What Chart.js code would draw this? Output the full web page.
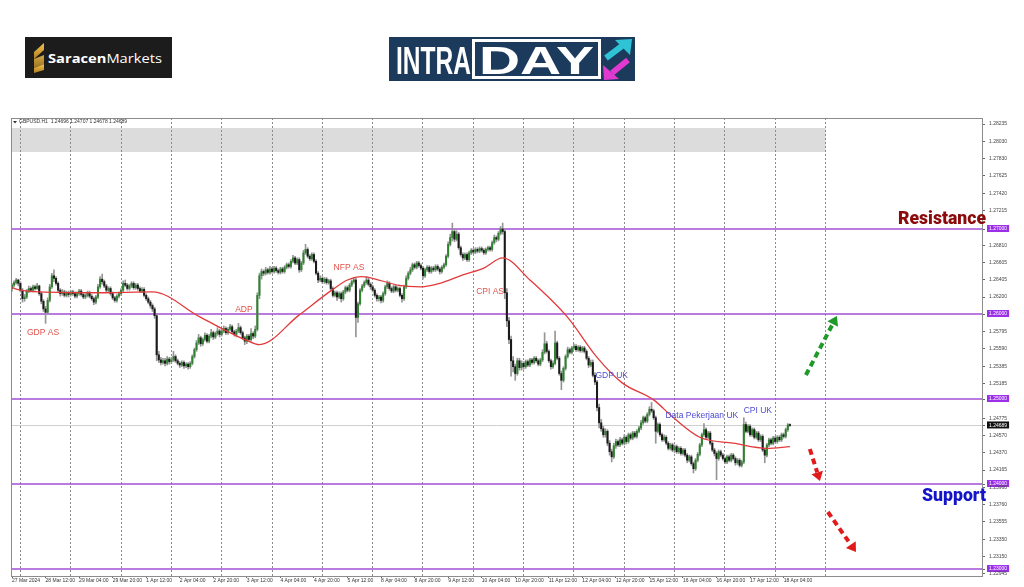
<!DOCTYPE html>
<html>
<head>
<meta charset="utf-8">
<script src="https://cdn.jsdelivr.net/npm/chart.js@4.4.0/dist/chart.umd.min.js"></script>
<style>
  html, body { margin: 0; padding: 0; background: #fff; width: 1024px; height: 587px; overflow: hidden; }
  #wrap { position: absolute; left: 0; top: 0; width: 1024px; height: 587px; }
  svg.abs { position: absolute; left: 0; top: 0; pointer-events: none; }
</style>
</head>
<body>
<div id="wrap"><canvas id="c"></canvas></div>

<!-- logos + big labels -->
<svg class="abs" width="1024" height="587">
  <defs>
    <linearGradient id="gold" x1="0" y1="0" x2="0" y2="1">
      <stop offset="0" stop-color="#f3c54a"/><stop offset="1" stop-color="#b07d22"/>
    </linearGradient>
  </defs>
  <g transform="translate(25,37)">
    <rect width="147" height="41" fill="#1c1c1c"/>
    <polygon points="19,6 9,15 9,22 19,13" fill="url(#gold)"/>
    <polygon points="9,22 19,18 19,27 9,31" fill="url(#gold)" opacity="0.85"/>
    <polygon points="19,27 19,33 9,36 9,31" fill="url(#gold)"/>
    <text x="23" y="26" font-family="Open Sans, Liberation Sans" font-size="13" fill="#fff"
          textLength="114" lengthAdjust="spacingAndGlyphs"><tspan font-weight="700">Saracen</tspan>Markets</text>
  </g>
  <g transform="translate(389,37)">
    <rect width="246" height="44" fill="#1b3a5c"/>
    <text x="7" y="37" font-family="Liberation Sans, Roboto" font-weight="700"
          font-size="38" fill="#fff" textLength="75" lengthAdjust="spacingAndGlyphs">INTRA</text>
    <rect x="84.5" y="3.5" width="126" height="37" fill="none" stroke="#fff" stroke-width="3"/>
    <text x="90" y="37" font-family="Liberation Sans, Roboto" font-weight="700"
          font-size="38" fill="#fff" textLength="115" lengthAdjust="spacingAndGlyphs">DAY</text>
    <line x1="217" y1="21" x2="233" y2="9" stroke="#2ec4d6" stroke-width="6"/>
    <polygon points="226,3 243,2 241,18" fill="#2ec4d6"/>
    <line x1="239" y1="23" x2="223" y2="36" stroke="#e03ad0" stroke-width="6"/>
    <polygon points="214,28 215,43 230,42" fill="#e03ad0"/>
  </g>
  <text x="898" y="224" font-family="Roboto, Liberation Sans" font-weight="900" font-size="18" fill="#8b0b0b"
        textLength="88" lengthAdjust="spacingAndGlyphs">Resistance</text>
  <text x="922" y="501" font-family="Roboto, Liberation Sans" font-weight="900" font-size="18" fill="#1414c8"
        textLength="64" lengthAdjust="spacingAndGlyphs">Support</text>
</svg>

<script>
// GBPUSD H1, 27 Mar 20:00 .. 18 Apr 07:00 (one bar per hour, 24/5)
const OPEN = [
  1.2630, 1.2634, 1.2637, 1.2640,
  1.2636, 1.2628, 1.2618, 1.2620, 1.2627, 1.2630, 1.2628, 1.2632, 1.2630, 1.2633, 1.2624, 1.2615, 1.2606, 1.2602, 1.2616, 1.2632, 1.2645, 1.2642, 1.2636, 1.2628, 1.2624, 1.2626, 1.2622, 1.2625,
  1.2623, 1.2626, 1.2624, 1.2621, 1.2624, 1.2627, 1.2623, 1.2620, 1.2622, 1.2625, 1.2621, 1.2618, 1.2614, 1.2620, 1.2632, 1.2641, 1.2638, 1.2633, 1.2628, 1.2630, 1.2624, 1.2619, 1.2616, 1.2621,
  1.2624, 1.2628, 1.2636, 1.2634, 1.2630, 1.2633, 1.2636, 1.2631, 1.2634, 1.2630, 1.2627, 1.2629, 1.2622, 1.2618, 1.2614, 1.2610, 1.2606, 1.2598, 1.2552, 1.2546, 1.2543, 1.2545, 1.2542, 1.2547,
  1.2544, 1.2546, 1.2550, 1.2545, 1.2542, 1.2540, 1.2543, 1.2539, 1.2541, 1.2538, 1.2542, 1.2550, 1.2558, 1.2566, 1.2572, 1.2565, 1.2570, 1.2575, 1.2568, 1.2574, 1.2578, 1.2573, 1.2577, 1.2580,
  1.2576, 1.2580, 1.2583, 1.2578, 1.2582, 1.2585, 1.2579, 1.2576, 1.2580, 1.2584, 1.2578, 1.2572, 1.2568, 1.2574, 1.2570, 1.2577, 1.2574, 1.2582, 1.2622, 1.2645, 1.2650, 1.2648, 1.2652, 1.2649,
  1.2653, 1.2650, 1.2654, 1.2651, 1.2649, 1.2653, 1.2650, 1.2655, 1.2658, 1.2656, 1.2662, 1.2666, 1.2660, 1.2664, 1.2652, 1.2660, 1.2672, 1.2676, 1.2668, 1.2665, 1.2670, 1.2662, 1.2648, 1.2640,
  1.2642, 1.2638, 1.2641, 1.2637, 1.2639, 1.2630, 1.2622, 1.2625, 1.2620, 1.2624, 1.2618, 1.2626, 1.2631, 1.2628, 1.2634, 1.2638, 1.2640, 1.2596, 1.2612, 1.2628, 1.2633, 1.2637, 1.2640, 1.2635,
  1.2632, 1.2628, 1.2622, 1.2618, 1.2620, 1.2616, 1.2624, 1.2632, 1.2636, 1.2630, 1.2627, 1.2632, 1.2628, 1.2630, 1.2622, 1.2618, 1.2632, 1.2642, 1.2648, 1.2652, 1.2658, 1.2655, 1.2660, 1.2657,
  1.2654, 1.2645, 1.2652, 1.2655, 1.2650, 1.2654, 1.2652, 1.2656, 1.2653, 1.2650, 1.2655, 1.2658, 1.2668, 1.2682, 1.2690, 1.2697, 1.2688, 1.2694, 1.2678, 1.2670, 1.2666, 1.2670, 1.2664, 1.2672,
  1.2675, 1.2673, 1.2676, 1.2674, 1.2677, 1.2675, 1.2672, 1.2676, 1.2678, 1.2676, 1.2684, 1.2690, 1.2688, 1.2695, 1.2700, 1.2697, 1.2625, 1.2592, 1.2570, 1.2545, 1.2538, 1.2530, 1.2545, 1.2537,
  1.2542, 1.2538, 1.2544, 1.2540, 1.2546, 1.2543, 1.2548, 1.2545, 1.2541, 1.2546, 1.2555, 1.2565, 1.2556, 1.2545, 1.2538, 1.2542, 1.2566, 1.2548, 1.2530, 1.2522, 1.2536, 1.2550, 1.2558, 1.2555,
  1.2560, 1.2562, 1.2558, 1.2561, 1.2557, 1.2560, 1.2556, 1.2548, 1.2540, 1.2543, 1.2528, 1.2520, 1.2490, 1.2472, 1.2465, 1.2458, 1.2462, 1.2448, 1.2438, 1.2432, 1.2445, 1.2450, 1.2446, 1.2452,
  1.2448, 1.2455, 1.2450, 1.2458, 1.2454, 1.2460, 1.2456, 1.2462, 1.2466, 1.2472, 1.2478, 1.2474, 1.2482, 1.2488, 1.2486, 1.2478, 1.2462, 1.2470, 1.2458, 1.2452, 1.2455, 1.2448, 1.2442, 1.2446,
  1.2440, 1.2444, 1.2438, 1.2442, 1.2436, 1.2440, 1.2434, 1.2428, 1.2432, 1.2424, 1.2418, 1.2428, 1.2435, 1.2446, 1.2458, 1.2464, 1.2455, 1.2460, 1.2448, 1.2440, 1.2436, 1.2430, 1.2438, 1.2434,
  1.2430, 1.2426, 1.2432, 1.2428, 1.2434, 1.2430, 1.2425, 1.2428, 1.2422, 1.2426, 1.2470, 1.2462, 1.2468, 1.2458, 1.2464, 1.2455, 1.2460, 1.2452, 1.2456, 1.2440, 1.2434, 1.2446, 1.2452, 1.2448,
  1.2454, 1.2450, 1.2455, 1.2452, 1.2458, 1.2456, 1.2464, 1.24696
];
const HIGH = [
  1.2636, 1.2639, 1.2642, 1.2641,
  1.2638, 1.2630, 1.2623, 1.2629, 1.2633, 1.2632, 1.2634, 1.2634, 1.2636, 1.2634, 1.2626, 1.2617, 1.2609, 1.2619, 1.2635, 1.2648, 1.2652, 1.2644, 1.2638, 1.2630, 1.2629, 1.2628, 1.2627, 1.2627,
  1.2628, 1.2628, 1.2626, 1.2626, 1.2629, 1.2629, 1.2625, 1.2624, 1.2627, 1.2627, 1.2623, 1.2620, 1.2622, 1.2635, 1.2644, 1.2647, 1.2640, 1.2635, 1.2632, 1.2632, 1.2626, 1.2621, 1.2623, 1.2626,
  1.2630, 1.2639, 1.2640, 1.2636, 1.2635, 1.2638, 1.2638, 1.2636, 1.2636, 1.2632, 1.2631, 1.2631, 1.2624, 1.2620, 1.2616, 1.2612, 1.2608, 1.2600, 1.2556, 1.2549, 1.2548, 1.2548, 1.2550, 1.2549,
  1.2549, 1.2556, 1.2552, 1.2547, 1.2544, 1.2545, 1.2545, 1.2543, 1.2543, 1.2544, 1.2552, 1.2560, 1.2569, 1.2576, 1.2574, 1.2572, 1.2578, 1.2577, 1.2576, 1.2582, 1.2580, 1.2579, 1.2584, 1.2582,
  1.2582, 1.2586, 1.2585, 1.2584, 1.2588, 1.2587, 1.2581, 1.2582, 1.2589, 1.2586, 1.2580, 1.2574, 1.2576, 1.2576, 1.2583, 1.2579, 1.2586, 1.2625, 1.2648, 1.2653, 1.2652, 1.2655, 1.2654, 1.2656,
  1.2655, 1.2656, 1.2656, 1.2653, 1.2655, 1.2655, 1.2657, 1.2660, 1.2660, 1.2664, 1.2669, 1.2668, 1.2666, 1.2666, 1.2662, 1.2675, 1.2682, 1.2678, 1.2670, 1.2672, 1.2672, 1.2664, 1.2650, 1.2645,
  1.2644, 1.2643, 1.2643, 1.2641, 1.2641, 1.2632, 1.2627, 1.2627, 1.2626, 1.2626, 1.2628, 1.2633, 1.2633, 1.2636, 1.2640, 1.2643, 1.2642, 1.2614, 1.2630, 1.2635, 1.2639, 1.2644, 1.2642, 1.2637,
  1.2634, 1.2630, 1.2624, 1.2622, 1.2622, 1.2626, 1.2634, 1.2639, 1.2638, 1.2632, 1.2634, 1.2634, 1.2632, 1.2632, 1.2624, 1.2634, 1.2645, 1.2650, 1.2655, 1.2660, 1.2660, 1.2662, 1.2662, 1.2659,
  1.2656, 1.2654, 1.2657, 1.2657, 1.2656, 1.2656, 1.2658, 1.2658, 1.2655, 1.2657, 1.2660, 1.2670, 1.2685, 1.2694, 1.2707, 1.2700, 1.2698, 1.2696, 1.2680, 1.2672, 1.2672, 1.2672, 1.2674, 1.2677,
  1.2677, 1.2678, 1.2678, 1.2679, 1.2679, 1.2677, 1.2678, 1.2680, 1.2680, 1.2686, 1.2693, 1.2692, 1.2697, 1.2703, 1.2707, 1.2699, 1.2630, 1.2596, 1.2574, 1.2550, 1.2541, 1.2548, 1.2548, 1.2545,
  1.2544, 1.2546, 1.2546, 1.2548, 1.2548, 1.2550, 1.2550, 1.2547, 1.2548, 1.2558, 1.2578, 1.2568, 1.2558, 1.2547, 1.2545, 1.2580, 1.2568, 1.2550, 1.2533, 1.2538, 1.2552, 1.2561, 1.2560, 1.2562,
  1.2565, 1.2564, 1.2563, 1.2563, 1.2562, 1.2562, 1.2558, 1.2550, 1.2546, 1.2546, 1.2531, 1.2522, 1.2494, 1.2476, 1.2468, 1.2465, 1.2464, 1.2451, 1.2441, 1.2448, 1.2453, 1.2452, 1.2455, 1.2454,
  1.2458, 1.2457, 1.2460, 1.2460, 1.2462, 1.2462, 1.2464, 1.2468, 1.2475, 1.2480, 1.2480, 1.2484, 1.2491, 1.2496, 1.2488, 1.2480, 1.2472, 1.2472, 1.2460, 1.2458, 1.2457, 1.2450, 1.2448, 1.2448,
  1.2446, 1.2446, 1.2444, 1.2444, 1.2442, 1.2442, 1.2436, 1.2434, 1.2434, 1.2426, 1.2430, 1.2437, 1.2448, 1.2460, 1.2471, 1.2466, 1.2462, 1.2462, 1.2450, 1.2442, 1.2438, 1.2440, 1.2440, 1.2436,
  1.2432, 1.2434, 1.2434, 1.2436, 1.2436, 1.2432, 1.2430, 1.2430, 1.2428, 1.2478, 1.2473, 1.2470, 1.2470, 1.2466, 1.2466, 1.2462, 1.2462, 1.2458, 1.2458, 1.2442, 1.2448, 1.2454, 1.2454, 1.2456,
  1.2456, 1.2457, 1.2457, 1.2460, 1.2460, 1.2466, 1.2471, 1.24707
];
const LOW = [
  1.2627, 1.2632, 1.2635, 1.2633,
  1.2626, 1.2614, 1.2615, 1.2618, 1.2625, 1.2626, 1.2626, 1.2628, 1.2629, 1.2622, 1.2612, 1.2603, 1.2589, 1.2600, 1.2614, 1.2630, 1.2638, 1.2634, 1.2626, 1.2621, 1.2622, 1.2620, 1.2620, 1.2620,
  1.2621, 1.2622, 1.2619, 1.2619, 1.2622, 1.2621, 1.2618, 1.2618, 1.2620, 1.2619, 1.2616, 1.2611, 1.2612, 1.2618, 1.2630, 1.2635, 1.2631, 1.2626, 1.2626, 1.2622, 1.2617, 1.2614, 1.2614, 1.2619,
  1.2622, 1.2626, 1.2632, 1.2628, 1.2628, 1.2631, 1.2629, 1.2629, 1.2628, 1.2625, 1.2625, 1.2620, 1.2616, 1.2612, 1.2607, 1.2603, 1.2595, 1.2545, 1.2543, 1.2540, 1.2541, 1.2539, 1.2540, 1.2541,
  1.2542, 1.2544, 1.2543, 1.2540, 1.2537, 1.2538, 1.2536, 1.2537, 1.2535, 1.2536, 1.2540, 1.2548, 1.2556, 1.2564, 1.2562, 1.2563, 1.2568, 1.2566, 1.2566, 1.2572, 1.2570, 1.2571, 1.2575, 1.2573,
  1.2574, 1.2578, 1.2576, 1.2576, 1.2580, 1.2577, 1.2574, 1.2573, 1.2578, 1.2576, 1.2570, 1.2564, 1.2565, 1.2568, 1.2568, 1.2571, 1.2572, 1.2580, 1.2618, 1.2641, 1.2645, 1.2646, 1.2647, 1.2647,
  1.2648, 1.2648, 1.2649, 1.2647, 1.2647, 1.2648, 1.2648, 1.2653, 1.2654, 1.2654, 1.2660, 1.2658, 1.2658, 1.2649, 1.2650, 1.2658, 1.2670, 1.2666, 1.2663, 1.2663, 1.2660, 1.2646, 1.2637, 1.2638,
  1.2636, 1.2636, 1.2635, 1.2635, 1.2628, 1.2620, 1.2620, 1.2616, 1.2618, 1.2614, 1.2616, 1.2624, 1.2626, 1.2626, 1.2632, 1.2636, 1.2573, 1.2590, 1.2610, 1.2626, 1.2631, 1.2635, 1.2633, 1.2629,
  1.2626, 1.2620, 1.2615, 1.2615, 1.2613, 1.2614, 1.2622, 1.2630, 1.2628, 1.2625, 1.2625, 1.2626, 1.2626, 1.2620, 1.2614, 1.2616, 1.2630, 1.2640, 1.2646, 1.2650, 1.2653, 1.2653, 1.2655, 1.2652,
  1.2641, 1.2643, 1.2650, 1.2648, 1.2648, 1.2650, 1.2650, 1.2651, 1.2647, 1.2648, 1.2653, 1.2656, 1.2666, 1.2680, 1.2686, 1.2685, 1.2686, 1.2676, 1.2668, 1.2663, 1.2664, 1.2662, 1.2662, 1.2670,
  1.2671, 1.2671, 1.2672, 1.2672, 1.2673, 1.2670, 1.2670, 1.2674, 1.2674, 1.2674, 1.2682, 1.2685, 1.2686, 1.2693, 1.2694, 1.2618, 1.2585, 1.2565, 1.2527, 1.2532, 1.2522, 1.2528, 1.2534, 1.2534,
  1.2535, 1.2536, 1.2538, 1.2538, 1.2541, 1.2541, 1.2543, 1.2539, 1.2539, 1.2544, 1.2553, 1.2554, 1.2543, 1.2535, 1.2536, 1.2540, 1.2546, 1.2528, 1.2511, 1.2520, 1.2534, 1.2548, 1.2553, 1.2553,
  1.2558, 1.2556, 1.2556, 1.2555, 1.2555, 1.2554, 1.2546, 1.2537, 1.2538, 1.2526, 1.2517, 1.2486, 1.2466, 1.2462, 1.2455, 1.2455, 1.2445, 1.2434, 1.2426, 1.2430, 1.2442, 1.2444, 1.2444, 1.2446,
  1.2446, 1.2447, 1.2448, 1.2452, 1.2452, 1.2454, 1.2454, 1.2460, 1.2464, 1.2470, 1.2472, 1.2472, 1.2480, 1.2484, 1.2476, 1.2448, 1.2460, 1.2456, 1.2450, 1.2450, 1.2446, 1.2440, 1.2440, 1.2438,
  1.2437, 1.2436, 1.2436, 1.2434, 1.2434, 1.2432, 1.2425, 1.2426, 1.2422, 1.2413, 1.2416, 1.2426, 1.2433, 1.2444, 1.2456, 1.2453, 1.2453, 1.2446, 1.2438, 1.2433, 1.2405, 1.2428, 1.2432, 1.2428,
  1.2424, 1.2424, 1.2426, 1.2426, 1.2428, 1.2422, 1.2423, 1.2420, 1.2420, 1.2424, 1.2460, 1.2460, 1.2456, 1.2456, 1.2453, 1.2453, 1.2450, 1.2450, 1.2438, 1.2425, 1.2432, 1.2444, 1.2446, 1.2446,
  1.2448, 1.2448, 1.2450, 1.2450, 1.2454, 1.2454, 1.2462, 1.24678
];
const CLOSE = [
  1.2634, 1.2637, 1.2640, 1.2636,
  1.2628, 1.2618, 1.2620, 1.2627, 1.2630, 1.2628, 1.2632, 1.2630, 1.2633, 1.2624, 1.2615, 1.2606, 1.2602, 1.2616, 1.2632, 1.2645, 1.2642, 1.2636, 1.2628, 1.2624, 1.2626, 1.2622, 1.2625, 1.2623,
  1.2626, 1.2624, 1.2621, 1.2624, 1.2627, 1.2623, 1.2620, 1.2622, 1.2625, 1.2621, 1.2618, 1.2614, 1.2620, 1.2632, 1.2641, 1.2638, 1.2633, 1.2628, 1.2630, 1.2624, 1.2619, 1.2616, 1.2621, 1.2624,
  1.2628, 1.2636, 1.2634, 1.2630, 1.2633, 1.2636, 1.2631, 1.2634, 1.2630, 1.2627, 1.2629, 1.2622, 1.2618, 1.2614, 1.2610, 1.2606, 1.2598, 1.2552, 1.2546, 1.2543, 1.2545, 1.2542, 1.2547, 1.2544,
  1.2546, 1.2550, 1.2545, 1.2542, 1.2540, 1.2543, 1.2539, 1.2541, 1.2538, 1.2542, 1.2550, 1.2558, 1.2566, 1.2572, 1.2565, 1.2570, 1.2575, 1.2568, 1.2574, 1.2578, 1.2573, 1.2577, 1.2580, 1.2576,
  1.2580, 1.2583, 1.2578, 1.2582, 1.2585, 1.2579, 1.2576, 1.2580, 1.2584, 1.2578, 1.2572, 1.2568, 1.2574, 1.2570, 1.2577, 1.2574, 1.2582, 1.2622, 1.2645, 1.2650, 1.2648, 1.2652, 1.2649, 1.2653,
  1.2650, 1.2654, 1.2651, 1.2649, 1.2653, 1.2650, 1.2655, 1.2658, 1.2656, 1.2662, 1.2666, 1.2660, 1.2664, 1.2652, 1.2660, 1.2672, 1.2676, 1.2668, 1.2665, 1.2670, 1.2662, 1.2648, 1.2640, 1.2642,
  1.2638, 1.2641, 1.2637, 1.2639, 1.2630, 1.2622, 1.2625, 1.2620, 1.2624, 1.2618, 1.2626, 1.2631, 1.2628, 1.2634, 1.2638, 1.2640, 1.2596, 1.2612, 1.2628, 1.2633, 1.2637, 1.2640, 1.2635, 1.2632,
  1.2628, 1.2622, 1.2618, 1.2620, 1.2616, 1.2624, 1.2632, 1.2636, 1.2630, 1.2627, 1.2632, 1.2628, 1.2630, 1.2622, 1.2618, 1.2632, 1.2642, 1.2648, 1.2652, 1.2658, 1.2655, 1.2660, 1.2657, 1.2654,
  1.2645, 1.2652, 1.2655, 1.2650, 1.2654, 1.2652, 1.2656, 1.2653, 1.2650, 1.2655, 1.2658, 1.2668, 1.2682, 1.2690, 1.2697, 1.2688, 1.2694, 1.2678, 1.2670, 1.2666, 1.2670, 1.2664, 1.2672, 1.2675,
  1.2673, 1.2676, 1.2674, 1.2677, 1.2675, 1.2672, 1.2676, 1.2678, 1.2676, 1.2684, 1.2690, 1.2688, 1.2695, 1.2700, 1.2697, 1.2625, 1.2592, 1.2570, 1.2545, 1.2538, 1.2530, 1.2545, 1.2537, 1.2542,
  1.2538, 1.2544, 1.2540, 1.2546, 1.2543, 1.2548, 1.2545, 1.2541, 1.2546, 1.2555, 1.2565, 1.2556, 1.2545, 1.2538, 1.2542, 1.2566, 1.2548, 1.2530, 1.2522, 1.2536, 1.2550, 1.2558, 1.2555, 1.2560,
  1.2562, 1.2558, 1.2561, 1.2557, 1.2560, 1.2556, 1.2548, 1.2540, 1.2543, 1.2528, 1.2520, 1.2490, 1.2472, 1.2465, 1.2458, 1.2462, 1.2448, 1.2438, 1.2432, 1.2445, 1.2450, 1.2446, 1.2452, 1.2448,
  1.2455, 1.2450, 1.2458, 1.2454, 1.2460, 1.2456, 1.2462, 1.2466, 1.2472, 1.2478, 1.2474, 1.2482, 1.2488, 1.2486, 1.2478, 1.2462, 1.2470, 1.2458, 1.2452, 1.2455, 1.2448, 1.2442, 1.2446, 1.2440,
  1.2444, 1.2438, 1.2442, 1.2436, 1.2440, 1.2434, 1.2428, 1.2432, 1.2424, 1.2418, 1.2428, 1.2435, 1.2446, 1.2458, 1.2464, 1.2455, 1.2460, 1.2448, 1.2440, 1.2436, 1.2430, 1.2438, 1.2434, 1.2430,
  1.2426, 1.2432, 1.2428, 1.2434, 1.2430, 1.2425, 1.2428, 1.2422, 1.2426, 1.2470, 1.2462, 1.2468, 1.2458, 1.2464, 1.2455, 1.2460, 1.2452, 1.2456, 1.2440, 1.2434, 1.2446, 1.2452, 1.2448, 1.2454,
  1.2450, 1.2455, 1.2452, 1.2458, 1.2456, 1.2464, 1.24696, 1.24689
];

// red moving average, read at a few bar indexes
const MA_AT  = [0, 4, 13, 42, 67, 90, 116, 118, 137, 153, 160, 167, 175, 184, 195, 204, 215, 225, 234, 247, 265, 279, 291, 306, 315, 328, 344, 360, 371];
const MA_VAL = [1.2631, 1.2628, 1.2626, 1.2625, 1.2626, 1.2596, 1.2565, 1.2564, 1.2599, 1.2629, 1.2640, 1.2644, 1.2640, 1.2634, 1.2632,
                1.2636, 1.2646, 1.2654, 1.2666, 1.2640, 1.2596, 1.2549, 1.2519, 1.2499, 1.2479, 1.2455, 1.2448, 1.2442, 1.2444];

const TIME_LABELS = ['27 Mar 2024', '28 Mar 12:00', '29 Mar 04:00', '29 Mar 20:00', '1 Apr 12:00', '2 Apr 04:00',
  '2 Apr 20:00', '3 Apr 12:00', '4 Apr 04:00', '4 Apr 20:00', '5 Apr 12:00', '8 Apr 04:00', '8 Apr 20:00',
  '9 Apr 12:00', '10 Apr 04:00', '10 Apr 20:00', '11 Apr 12:00', '12 Apr 04:00', '12 Apr 20:00', '15 Apr 12:00',
  '16 Apr 04:00', '16 Apr 20:00', '17 Apr 12:00', '18 Apr 04:00'];
const Y_TICKS = [1.28235, 1.28030, 1.27830, 1.27625, 1.27420, 1.27215, 1.27000, 1.26810, 1.26605, 1.26405, 1.26200,
  1.26000, 1.25795, 1.25590, 1.25385, 1.25185, 1.25000, 1.24775, 1.24689, 1.24570, 1.24370, 1.24165, 1.24000,
  1.23960, 1.23760, 1.23555, 1.23350, 1.23150, 1.23000, 1.22945];
const LEVELS = [1.27, 1.26, 1.25, 1.24, 1.23];
const LAST_PRICE = 1.24689;

const RED = '#e0524a', BLUE = '#4b4bd4';
const NOTES = [
  ['GDP AS', 14.8, 1.25776, RED], ['ADP', 110.6, 1.26047, RED], ['NFP AS', 160.7, 1.26541, RED],
  ['CPI AS', 228, 1.26259, RED], ['GDP UK', 286, 1.25271, BLUE],
  ['Data Pekerjaan UK', 329, 1.24800, BLUE], ['CPI UK', 355.7, 1.24859, BLUE],
];
const ARROWS = [
  [378.6, 1.25282, 393.4, 1.25976, '#1f9a2a'],
  [380.5, 1.24412, 385.3, 1.24035, '#e11b1b'],
  [389.1, 1.23671, 402.5, 1.23200, '#e11b1b'],
];

const X_MIN = -0.48, X_MAX = 462.6;
const UP = '#2f822f', DOWN = '#1a1a1a', WICK = '#959595', PURPLE = '#a24fd6';
const FONT = 'Liberation Sans';

function drawArrow(ctx, x1, y1, x2, y2, color) {
  const a = Math.atan2(y2 - y1, x2 - x1), head = 9;
  const bx = x2 - Math.cos(a) * head, by = y2 - Math.sin(a) * head;
  ctx.strokeStyle = color; ctx.fillStyle = color;
  ctx.lineWidth = 4; ctx.setLineDash([6, 4]);
  ctx.beginPath(); ctx.moveTo(x1, y1); ctx.lineTo(bx, by); ctx.stroke();
  ctx.setLineDash([]);
  const nx = Math.cos(a + Math.PI / 2) * 6, ny = Math.sin(a + Math.PI / 2) * 6;
  ctx.beginPath(); ctx.moveTo(x2, y2); ctx.lineTo(bx + nx, by + ny); ctx.lineTo(bx - nx, by - ny);
  ctx.closePath(); ctx.fill();
}

const overlay = {
  id: 'overlay',
  beforeDraw(c) {
    const { ctx, chartArea: a, scales: { x, y } } = c;
    ctx.save();
    ctx.fillStyle = '#dcdcdc';
    const y1 = y.getPixelForValue(1.28188), y2 = y.getPixelForValue(1.27906);
    ctx.fillRect(a.left, y1, x.getPixelForValue(388) - a.left, y2 - y1);
    ctx.restore();
  },
  beforeDatasetsDraw(c) {
    const { ctx, chartArea: a, scales: { y } } = c;
    ctx.save();
    ctx.strokeStyle = '#cfcfcf'; ctx.lineWidth = 1;
    const py = Math.round(y.getPixelForValue(LAST_PRICE)) + 0.5;
    ctx.beginPath(); ctx.moveTo(a.left, py); ctx.lineTo(a.right, py); ctx.stroke();
    ctx.strokeStyle = PURPLE; ctx.lineWidth = 1.6;
    for (const v of LEVELS) {
      const p = y.getPixelForValue(v);
      ctx.beginPath(); ctx.moveTo(a.left, p); ctx.lineTo(a.right, p); ctx.stroke();
    }
    ctx.restore();
  },
  afterDatasetsDraw(c) {
    const { ctx, scales: { x, y } } = c;
    ctx.save();
    ctx.font = `8.5px ${FONT}`; ctx.textAlign = 'center'; ctx.textBaseline = 'middle';
    for (const [t, i, p, col] of NOTES) {
      ctx.fillStyle = col;
      ctx.fillText(t, x.getPixelForValue(i), y.getPixelForValue(p));
    }
    for (const [i1, p1, i2, p2, col] of ARROWS)
      drawArrow(ctx, x.getPixelForValue(i1), y.getPixelForValue(p1), x.getPixelForValue(i2), y.getPixelForValue(p2), col);
    ctx.restore();
  },
  afterDraw(c) {
    const { ctx, chartArea: a } = c;
    ctx.save();
    ctx.strokeStyle = '#8c8c8c'; ctx.lineWidth = 1;
    ctx.strokeRect(a.left + 0.5, a.top + 0.5, a.right - a.left, a.bottom - a.top);
    ctx.fillStyle = '#333';
    ctx.beginPath(); ctx.moveTo(13, 121); ctx.lineTo(17, 121); ctx.lineTo(15, 123.5); ctx.fill();
    ctx.font = `5px ${FONT}`; ctx.textBaseline = 'middle';
    ctx.fillText('GBPUSD.H1  1.24696 1.24707 1.24678 1.24689', 19, 122);
    ctx.restore();
  }
};

new Chart(document.getElementById('c'), {
  type: 'bar',
  data: {
    datasets: [
      {
        type: 'line', label: 'MA', data: MA_AT.map((i, k) => ({ x: i, y: MA_VAL[k] })),
        borderColor: '#e23a3a', borderWidth: 1.3, pointRadius: 0, cubicInterpolationMode: 'monotone', order: 0,
      },
      {
        label: 'body', data: CLOSE.map((c, i) => ({ x: i, y: [OPEN[i], c] })),
        backgroundColor: ctx => CLOSE[ctx.dataIndex] >= OPEN[ctx.dataIndex] ? UP : DOWN,
        barThickness: 1.4, minBarLength: 1, grouped: false, order: 1,
      },
      {
        label: 'wick', data: CLOSE.map((c, i) => ({ x: i, y: [LOW[i], HIGH[i]] })),
        backgroundColor: WICK, barThickness: 1, grouped: false, order: 2,
      },
    ]
  },
  options: {
    responsive: true, maintainAspectRatio: false, animation: false,
    layout: { padding: { left: 11, top: 118, right: 0, bottom: 0 } },
    plugins: { legend: { display: false }, tooltip: { enabled: false } },
    scales: {
      x: {
        type: 'linear', min: X_MIN, max: X_MAX, position: 'bottom', offset: false,
        afterBuildTicks: s => { s.ticks = TIME_LABELS.map((_, k) => ({ value: k * 16 })); },
        afterFit: s => { s.height = 11; },
        ticks: {
          callback: (v, k) => TIME_LABELS[k], autoSkip: false, maxRotation: 0, minRotation: 0,
          align: 'start', padding: 0, color: '#333', font: { family: FONT, size: 5 },
        },
        grid: { offset: false, drawOnChartArea: false, tickLength: 2, tickColor: '#666' },
        border: { color: '#8c8c8c' },
      },
      xg: {
        type: 'linear', min: X_MIN, max: X_MAX, position: 'top', offset: false,
        afterBuildTicks: s => {
          const t = [];
          for (let i = 4; i <= 388; i += 24) t.push({ value: i });
          s.ticks = t;
        },
        afterFit: s => { s.height = 0; },
        ticks: { display: false },
        grid: { offset: false, color: '#8a8a8a', lineWidth: 1, drawTicks: false },
        border: { display: false, dash: [2, 2] },
      },
      y: {
        position: 'right', min: 1.22918, max: 1.28306,
        afterBuildTicks: s => { s.ticks = Y_TICKS.map(v => ({ value: v })); },
        afterFit: s => { s.width = 42; },
        ticks: {
          autoSkip: false, padding: 4,
          callback: v => v.toFixed(5),
          font: { family: FONT, size: 5 },
          color: ctx => (LEVELS.includes(ctx.tick.value) || ctx.tick.value === LAST_PRICE) ? '#fff' : '#444',
          showLabelBackdrop: ctx => LEVELS.includes(ctx.tick.value) || ctx.tick.value === LAST_PRICE,
          backdropColor: ctx => ctx.tick.value === LAST_PRICE ? '#111' : '#9b30e8',
          backdropPadding: { left: 2, right: 2, top: 1, bottom: 0 },
        },
        grid: { drawOnChartArea: false, tickLength: 3, tickColor: '#666' },
        border: { color: '#777' },
      }
    }
  },
  plugins: [overlay]
});
</script>
</body>
</html>
